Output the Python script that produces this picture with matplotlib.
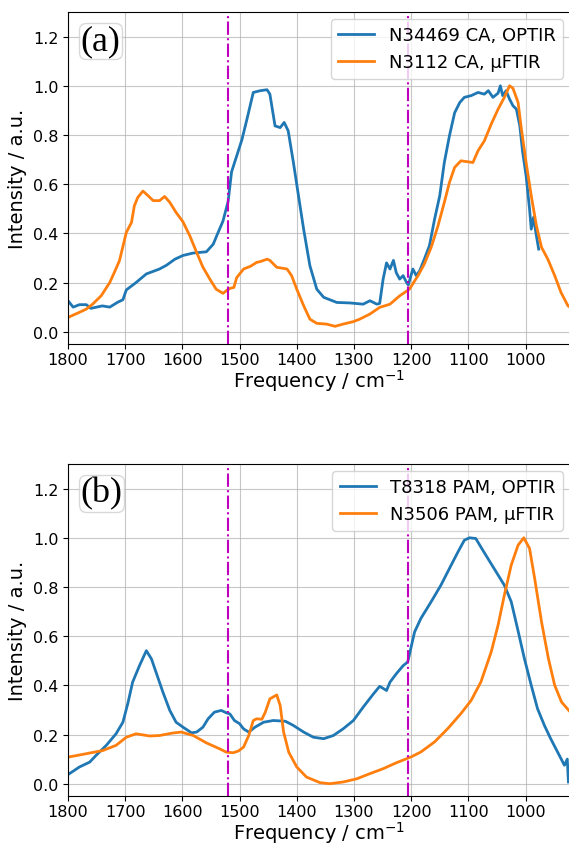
import matplotlib
matplotlib.use("Agg")
import matplotlib.pyplot as plt
from matplotlib.offsetbox import AnchoredText

# ---------------- data ----------------
# Panel (a): N34469 CA, OPTIR
a_optir_x = [1800, 1791, 1780, 1768, 1760, 1750, 1740, 1727, 1713, 1704, 1698, 1681, 1663,
             1640, 1628, 1613, 1599, 1581, 1558, 1546, 1540, 1529, 1520, 1514, 1505, 1496,
             1487, 1476, 1464, 1452, 1447, 1438, 1429, 1422, 1415, 1406, 1397, 1388, 1377,
             1365, 1353, 1330, 1307, 1284, 1272, 1260, 1255, 1249, 1243, 1237, 1231, 1226,
             1220, 1214, 1208, 1205, 1197, 1191, 1185, 1177, 1168, 1159, 1150, 1142, 1133,
             1124, 1115, 1107, 1095, 1083, 1072, 1065, 1057, 1048, 1044, 1040, 1034, 1028,
             1022, 1016, 1010, 1005, 999, 993, 990, 986, 981, 977]
a_optir_y = [0.126, 0.10, 0.11, 0.11, 0.095, 0.10, 0.105, 0.10, 0.12, 0.13, 0.17, 0.20, 0.235,
             0.255, 0.27, 0.295, 0.31, 0.32, 0.325, 0.356, 0.39, 0.45, 0.53, 0.65, 0.715, 0.78,
             0.865, 0.973, 0.98, 0.984, 0.966, 0.837, 0.83, 0.851, 0.817, 0.69, 0.553, 0.417, 0.268,
             0.173, 0.14, 0.119, 0.117, 0.112, 0.126, 0.112, 0.115, 0.214, 0.28, 0.255, 0.29, 0.24,
             0.214, 0.228, 0.20, 0.19, 0.255, 0.228, 0.248, 0.295, 0.35, 0.458, 0.553, 0.688, 0.797,
             0.89, 0.932, 0.953, 0.96, 0.973, 0.966, 0.98, 0.953, 0.97, 1.0, 0.96, 0.98, 0.946,
             0.919, 0.905, 0.837, 0.73, 0.634, 0.5, 0.417, 0.465, 0.39, 0.336]

# Panel (a): N3112 CA, uFTIR
a_ftir_x = [1800, 1780, 1768, 1757, 1742, 1727, 1719, 1710, 1698, 1689, 1684, 1678, 1669,
            1660, 1651, 1640, 1631, 1622, 1611, 1599, 1587, 1575, 1564, 1552, 1541, 1529,
            1523, 1517, 1510, 1505, 1493, 1481, 1470, 1464, 1452, 1447, 1435, 1417, 1409,
            1400, 1388, 1377, 1365, 1348, 1333, 1319, 1301, 1290, 1272, 1255, 1237, 1220,
            1203, 1188, 1177, 1165, 1153, 1142, 1133, 1124, 1113, 1101, 1092, 1083, 1072,
            1060, 1048, 1037, 1028, 1022, 1013, 1008, 999, 990, 981, 972, 961, 949, 938, 926, 922]
a_ftir_y = [0.058, 0.079, 0.092, 0.112, 0.146, 0.20, 0.241, 0.289, 0.404, 0.444, 0.512, 0.546, 0.572,
            0.553, 0.533, 0.533, 0.55, 0.526, 0.485, 0.447, 0.39, 0.322, 0.262, 0.214, 0.173, 0.156,
            0.167, 0.176, 0.18, 0.22, 0.255, 0.266, 0.282, 0.285, 0.295, 0.29, 0.262, 0.255, 0.228,
            0.173, 0.106, 0.051, 0.034, 0.031, 0.022, 0.031, 0.041, 0.051, 0.072, 0.099, 0.112, 0.146,
            0.173, 0.228, 0.275, 0.343, 0.431, 0.526, 0.607, 0.668, 0.695, 0.691, 0.688, 0.736, 0.776,
            0.844, 0.905, 0.953, 1.0, 0.99, 0.932, 0.837, 0.688, 0.553, 0.431, 0.343, 0.295, 0.228,
            0.16, 0.106, 0.099]

# Panel (b): T8318 PAM, OPTIR
b_optir_x = [1800, 1780, 1762, 1751, 1733, 1716, 1704, 1695, 1687, 1675, 1663, 1654, 1646,
             1634, 1622, 1611, 1599, 1584, 1575, 1564, 1555, 1544, 1532, 1523, 1517, 1509,
             1500, 1493, 1484, 1473, 1458, 1441, 1420, 1406, 1388, 1371, 1353, 1336, 1319,
             1301, 1284, 1266, 1255, 1243, 1237, 1226, 1214, 1206, 1200, 1194, 1183, 1165,
             1148, 1130, 1118, 1107, 1098, 1087, 1073, 1055, 1037, 1025, 1014, 1002, 990,
             979, 967, 956, 944, 932, 927, 925]
b_optir_y = [0.037, 0.068, 0.088, 0.115, 0.156, 0.203, 0.25, 0.33, 0.413, 0.48, 0.541, 0.507, 0.453,
             0.372, 0.298, 0.25, 0.23, 0.207, 0.21, 0.23, 0.264, 0.291, 0.298, 0.288, 0.284, 0.257,
             0.244, 0.223, 0.21, 0.23, 0.25, 0.257, 0.254, 0.237, 0.21, 0.189, 0.183, 0.196, 0.223,
             0.257, 0.311, 0.365, 0.396, 0.379, 0.413, 0.447, 0.48, 0.495, 0.556, 0.617, 0.672, 0.74,
             0.807, 0.889, 0.943, 0.99, 1.0, 0.997, 0.943, 0.875, 0.807, 0.74, 0.631, 0.509, 0.4,
             0.305, 0.237, 0.183, 0.129, 0.075, 0.10, 0.007]

# Panel (b): N3506 PAM, uFTIR
b_ftir_x = [1800, 1768, 1739, 1716, 1698, 1681, 1657, 1640, 1617, 1602, 1581, 1558, 1535,
            1523, 1511, 1502, 1493, 1484, 1476, 1470, 1461, 1455, 1447, 1435, 1429, 1423,
            1414, 1400, 1383, 1359, 1342, 1319, 1295, 1272, 1249, 1226, 1200, 1183, 1159,
            1136, 1113, 1095, 1078, 1060, 1048, 1037, 1025, 1013, 1003, 993, 984, 972, 960,
            949, 937, 922]
b_ftir_y = [0.108, 0.122, 0.135, 0.156, 0.189, 0.203, 0.194, 0.196, 0.206, 0.21, 0.196, 0.166, 0.142,
            0.128, 0.126, 0.133, 0.149, 0.196, 0.257, 0.264, 0.262, 0.291, 0.345, 0.361, 0.318, 0.21,
            0.128, 0.068, 0.027, 0.004, 0.0, 0.007, 0.02, 0.041, 0.061, 0.085, 0.109, 0.129, 0.17,
            0.224, 0.285, 0.339, 0.414, 0.536, 0.645, 0.767, 0.889, 0.97, 1.0, 0.957, 0.834, 0.658,
            0.509, 0.4, 0.332, 0.292]

panel_labels = ["(a)", "(b)"]
legend_a = ["N34469 CA, OPTIR", "N3112 CA, µFTIR"]
legend_b = ["T8318 PAM, OPTIR", "N3506 PAM, µFTIR"]
vlines = [1520, 1205]
xticks = [1800, 1700, 1600, 1500, 1400, 1300, 1200, 1100, 1000]
yticks = [0.0, 0.2, 0.4, 0.6, 0.8, 1.0, 1.2]

# ---------------- figure ----------------
fig = plt.figure(figsize=(5.69, 8.45), dpi=100)
ax1 = fig.add_axes([0.1195, 0.5917, 0.8825, 0.3929])
ax2 = fig.add_axes([0.1195, 0.0568, 0.8825, 0.3929])

panels = [
    (ax1, a_optir_x, a_optir_y, a_ftir_x, a_ftir_y, legend_a, panel_labels[0]),
    (ax2, b_optir_x, b_optir_y, b_ftir_x, b_ftir_y, legend_b, panel_labels[1]),
]

for ax, x1, y1, x2, y2, labels, plabel in panels:
    ax.plot(x1, y1, color="tab:blue", lw=2.0, label=labels[0])
    ax.plot(x2, y2, color="tab:orange", lw=2.0, label=labels[1])
    for v in vlines:
        ax.axvline(v, color="m", ls="-.", lw=1.5)
    ax.set_xlim(1800, 922)
    ax.set_ylim(-0.05, 1.3)
    ax.set_xticks(xticks)
    ax.set_yticks(yticks)
    ax.tick_params(labelsize=11.5)
    ax.tick_params(axis="x", pad=2.5)
    ax.grid(True, color="#b0b0b0", lw=0.8, alpha=0.7)
    ax.set_xlabel("Frequency / cm$^{-1}$", fontsize=14, labelpad=0)
    ax.set_ylabel("Intensity / a.u.", fontsize=14, labelpad=4)
    leg = ax.legend(loc="upper right", fontsize=13, handlelength=2.0,
                    borderaxespad=0.4, framealpha=0.8)
    at = AnchoredText(plabel, loc="upper left", frameon=True, pad=0.05, borderpad=0.3,
                      prop=dict(size=26, family="Liberation Serif"))
    at.patch.set_boxstyle("round,pad=0.,rounding_size=0.2")
    at.patch.set_edgecolor("#d0d0d0")
    at.patch.set_alpha(0.8)
    ax.add_artist(at)
    ax.spines["right"].set_visible(False)

fig.savefig("out.png", dpi=100)
